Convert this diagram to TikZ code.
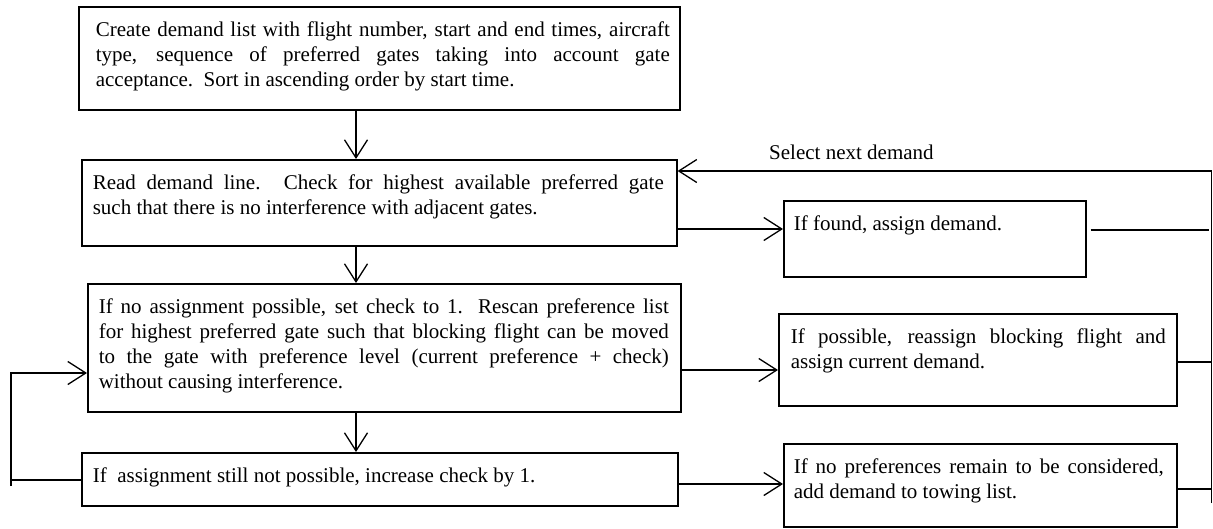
\documentclass[tikz,border=0pt]{standalone}
\usepackage{fontspec}
\setmainfont{Liberation Serif}
\usetikzlibrary{arrows.meta,calc}
\tolerance=10000
\hbadness=10000
\newcommand{\bxt}[5]{\parbox[t][#2pt][t]{#1pt}{\vspace*{12.5pt}\leftskip=#3pt\rightskip=#4pt\relax\noindent\strut #5}}
\begin{document}
\begin{tikzpicture}[x=1pt,y=-1pt,
  every node/.style={font=\fontsize{21}{25}\selectfont},
  box/.style={draw, line width=1.6pt, inner sep=0pt, anchor=north west},
  ln/.style={line width=1.3pt},
  arr/.style={line width=1.3pt, -{Straight Barb[length=18pt,width=23pt]}}]
\useasboundingbox (0,0) rectangle (1213,528);

\node[box] (b1) at (78,6) {\bxt{601}{103}{17}{10}{Create demand list with flight number, start and end times, aircraft\linebreak type, sequence of preferred gates taking into account gate\linebreak acceptance.\ \ Sort in ascending order by start time.}};
\node[box] (b2) at (81,159) {\bxt{595}{86}{11}{13}{Read demand line.  Check for highest available preferred gate\linebreak such that there is no interference with adjacent gates.}};
\node[box] (b3) at (87,283) {\bxt{593}{128}{11}{12}{If no assignment possible, set check to 1.  Rescan preference list\linebreak for highest preferred gate such that blocking flight can be moved\linebreak to the gate with preference level (current preference + check)\linebreak without causing interference.}};
\node[box] (b4) at (81,452) {\bxt{596}{53}{11}{12}{If\ \ assignment still not possible, increase check by 1.}};
\node[box] (bf) at (783,200) {\bxt{302}{76}{10}{10}{If found, assign demand.}};
\node[box] (br) at (778,313) {\bxt{398}{92}{12}{11}{If possible, reassign blocking flight and\linebreak assign current demand.}};
\node[box] (bt) at (783,443) {\bxt{393}{83}{10}{13}{If no preferences remain to be considered,\linebreak add demand to towing list.}};

\node[anchor=base west, inner sep=0pt] (sel) at (769,159) {Select next demand};

% vertical flow
\coordinate (ax) at (356,0);
\draw[arr] (b1.south -| ax) -- (b2.north -| ax);
\draw[arr] (b2.south -| ax) -- (b3.north -| ax);
\draw[arr] (b3.south -| ax) -- (b4.north -| ax);

% to the right-hand boxes
\coordinate (yf) at (0,229);
\coordinate (yr) at (0,370);
\coordinate (yt) at (0,484);
\draw[arr] (b2.east |- yf) -- (bf.west |- yf);
\draw[arr] (b3.east |- yr) -- (br.west |- yr);
\draw[arr] (b4.east |- yt) -- (bt.west |- yt);

% return loop on the right
\coordinate (rx) at (1211.5,171);
\coordinate (rb) at (1211.5,503);
\coordinate (yf2) at (0,230);
\coordinate (yr2) at (0,362);
\coordinate (yt2) at (0,489);
\draw[ln] ($(bf.east |- yf2)+(4,0)$) -- ($(rx |- yf2)+(-3,0)$);
\draw[ln] (br.east |- yr2) -- (rx |- yr2);
\draw[ln] (bt.east |- yt2) -- (rx |- yt2);
\draw[arr] (rb) -- (rx) -- (b2.east |- rx);

% left loop
\coordinate (lt) at (11,373);
\coordinate (lb) at (11,480);
\draw[ln] (b4.west |- lb) -- (lb);
\draw[arr] ($(lb)+(0,6)$) -- (lt) -- (b3.west |- lt);
\end{tikzpicture}
\end{document}
